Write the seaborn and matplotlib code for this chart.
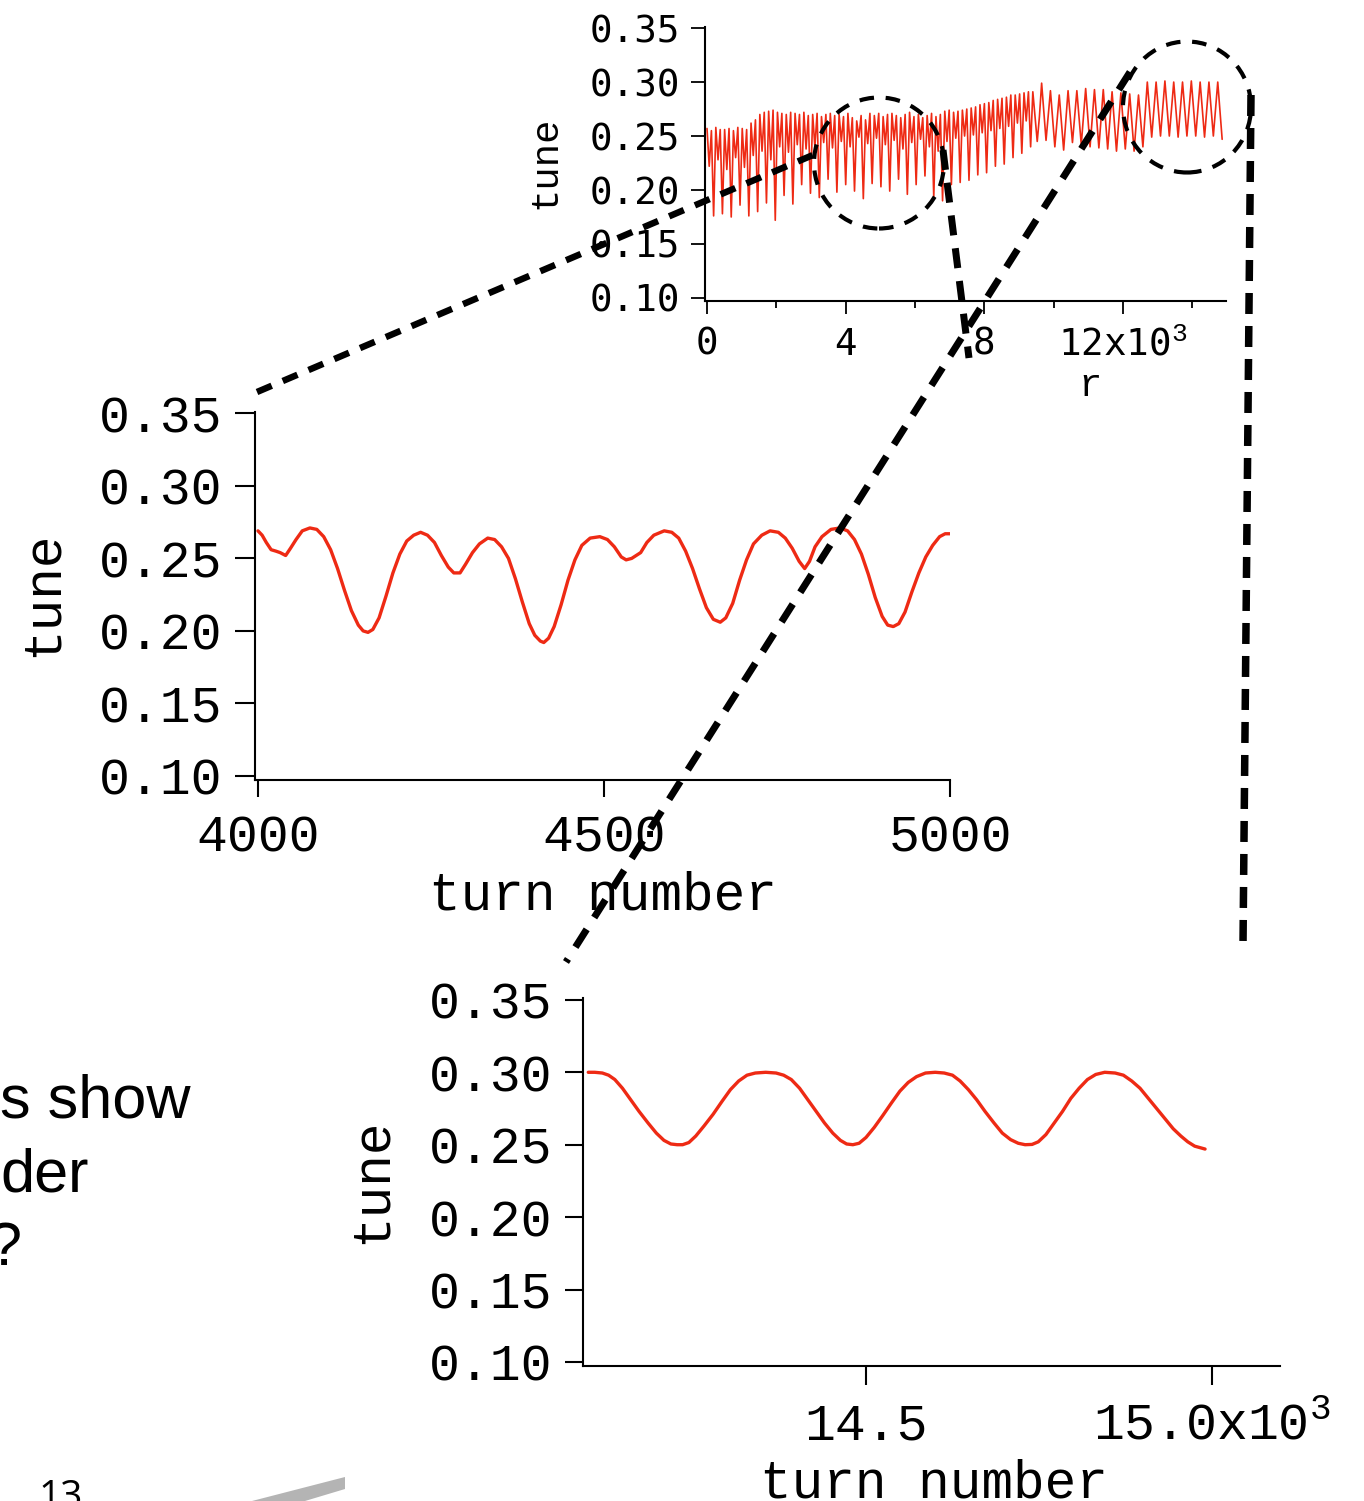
import numpy as np
import matplotlib
matplotlib.use("Agg")
import matplotlib.pyplot as plt
import seaborn as sns
from matplotlib.lines import Line2D
from matplotlib.patches import Ellipse, Polygon

# ---------------- data ----------------
# overview (top): tune sampled every 63.5 turns, values read from the picture
top_tune = [
    0.257, 0.222, 0.255, 0.176,  0.258, 0.228, 0.256, 0.178,  0.256, 0.219, 0.257, 0.175,
    0.255, 0.230, 0.258, 0.186,  0.257, 0.221, 0.256, 0.176,  0.262, 0.232, 0.265, 0.180,
    0.270, 0.236, 0.272, 0.188,  0.273, 0.228, 0.274, 0.172,  0.272, 0.240, 0.271, 0.195,
    0.270, 0.235, 0.272, 0.187,  0.271, 0.242, 0.270, 0.205,  0.272, 0.238, 0.269, 0.197,
    0.270, 0.240, 0.271, 0.193,  0.268, 0.244, 0.270, 0.210,  0.271, 0.239, 0.269, 0.198,
    0.270, 0.245, 0.268, 0.205,  0.271, 0.240, 0.267, 0.199,  0.264, 0.249, 0.269, 0.192,
    0.265, 0.243, 0.271, 0.206,  0.269, 0.248, 0.271, 0.203,  0.268, 0.242, 0.270, 0.199,
    0.271, 0.246, 0.269, 0.210,  0.267, 0.238, 0.270, 0.196,  0.272, 0.244, 0.268, 0.205,
    0.270, 0.247, 0.267, 0.213,  0.269, 0.240, 0.271, 0.193,  0.268, 0.236, 0.270, 0.190,
    0.273, 0.245, 0.274, 0.205,  0.272, 0.248, 0.273, 0.207,  0.274, 0.250, 0.275, 0.209,
    0.276, 0.251, 0.277, 0.214,  0.279, 0.253, 0.280, 0.216,  0.281, 0.255, 0.283, 0.222,
    0.284, 0.257, 0.285, 0.224,  0.286, 0.259, 0.288, 0.230,  0.288, 0.262, 0.289, 0.234,
    0.290, 0.264, 0.291, 0.240,
    0.291, 0.268, 0.245, 0.268,  0.299, 0.272, 0.246, 0.269,  0.292, 0.266, 0.240, 0.264,
    0.288, 0.262, 0.237, 0.265,  0.292, 0.268, 0.244, 0.268,  0.292, 0.267, 0.242, 0.268,
    0.294, 0.267, 0.240, 0.267,  0.293, 0.266, 0.239, 0.266,  0.293, 0.265, 0.238, 0.265,
    0.291, 0.263, 0.236, 0.263,  0.290, 0.264, 0.238, 0.263,  0.289, 0.262, 0.236, 0.263,
    0.288, 0.264, 0.240, 0.270,  0.300, 0.275, 0.249, 0.275,  0.300, 0.275, 0.250, 0.275,
    0.301, 0.276, 0.250, 0.275,  0.300, 0.275, 0.249, 0.275,  0.300, 0.275, 0.250, 0.276,
    0.301, 0.276, 0.250, 0.275,  0.300, 0.275, 0.249, 0.275,  0.300, 0.275, 0.250, 0.275,
    0.300, 0.274, 0.247,
]
top_step = 63.5  # turns between samples
top_turn_k = np.arange(len(top_tune)) * top_step / 1000.0

# zoom 4000-5000 turns (middle)
mid_turn = [4000, 4006, 4012, 4019, 4026, 4032, 4040, 4047, 4055, 4064, 4075, 4085,
            4095, 4105, 4115, 4125, 4135, 4145, 4152, 4159, 4166, 4175, 4185, 4195,
            4205, 4215, 4225, 4235, 4245, 4255, 4265, 4275, 4283, 4292, 4300, 4310,
            4320, 4332, 4342, 4352, 4362, 4372, 4382, 4392, 4400, 4408, 4413, 4420,
            4428, 4438, 4448, 4458, 4468, 4480, 4494, 4505, 4515, 4525, 4532, 4540,
            4553, 4562, 4572, 4587, 4598, 4608, 4618, 4628, 4638, 4648, 4658, 4668,
            4676, 4686, 4696, 4706, 4716, 4728, 4740, 4752, 4762, 4772, 4782, 4790,
            4797, 4805, 4815, 4828, 4841, 4852, 4862, 4872, 4882, 4892, 4902, 4910,
            4918, 4926, 4935, 4945, 4955, 4965, 4975, 4985, 4993, 5000]
mid_tune = [0.269, 0.266, 0.261, 0.256, 0.255, 0.254, 0.252, 0.257, 0.263, 0.269, 0.271, 0.270,
            0.265, 0.256, 0.243, 0.228, 0.214, 0.204, 0.200, 0.199, 0.201, 0.209, 0.224, 0.240,
            0.253, 0.262, 0.266, 0.268, 0.266, 0.261, 0.252, 0.244, 0.240, 0.240, 0.246, 0.254,
            0.260, 0.264, 0.263, 0.258, 0.250, 0.236, 0.220, 0.205, 0.197, 0.193, 0.192, 0.195,
            0.203, 0.218, 0.235, 0.249, 0.259, 0.264, 0.265, 0.263, 0.258, 0.251, 0.249, 0.250,
            0.254, 0.261, 0.266, 0.269, 0.268, 0.264, 0.255, 0.243, 0.229, 0.216, 0.208, 0.206,
            0.209, 0.219, 0.235, 0.249, 0.260, 0.266, 0.269, 0.268, 0.264, 0.257, 0.248, 0.243,
            0.248, 0.258, 0.265, 0.270, 0.271, 0.269, 0.263, 0.253, 0.239, 0.223, 0.210, 0.204,
            0.203, 0.205, 0.213, 0.227, 0.240, 0.251, 0.259, 0.265, 0.267, 0.267]

# zoom near 14.1-15.0 x10^3 turns (bottom)
bot_turn_k = [14.0986, 14.108, 14.119, 14.128, 14.137, 14.148, 14.160, 14.172, 14.185, 14.197,
              14.208, 14.218, 14.227, 14.235, 14.244, 14.254, 14.266, 14.279, 14.292, 14.304,
              14.316, 14.328, 14.340, 14.355, 14.370, 14.381, 14.392, 14.404, 14.416, 14.428,
              14.440, 14.452, 14.463, 14.472, 14.481, 14.490, 14.500, 14.512, 14.524, 14.537,
              14.549, 14.561, 14.573, 14.586, 14.600, 14.613, 14.625, 14.636, 14.648, 14.660,
              14.672, 14.685, 14.697, 14.709, 14.720, 14.730, 14.740, 14.749, 14.760, 14.772,
              14.784, 14.796, 14.808, 14.820, 14.832, 14.845, 14.860, 14.872, 14.884, 14.896,
              14.908, 14.920, 14.932, 14.944, 14.955, 14.965, 14.975, 14.990]
bot_tune = [0.300, 0.300, 0.2995, 0.298, 0.295, 0.289, 0.281, 0.273, 0.265, 0.258,
            0.253, 0.2505, 0.250, 0.250, 0.2515, 0.256, 0.263, 0.271, 0.280, 0.288,
            0.294, 0.298, 0.2995, 0.300, 0.2995, 0.298, 0.295, 0.289, 0.281, 0.273,
            0.265, 0.258, 0.253, 0.2505, 0.250, 0.251, 0.255, 0.262, 0.270, 0.279,
            0.287, 0.293, 0.297, 0.2995, 0.300, 0.2995, 0.298, 0.294, 0.288, 0.281,
            0.273, 0.265, 0.258, 0.2535, 0.251, 0.250, 0.2502, 0.252, 0.257, 0.265,
            0.273, 0.282, 0.289, 0.295, 0.2985, 0.300, 0.2995, 0.298, 0.294, 0.289,
            0.282, 0.275, 0.268, 0.261, 0.256, 0.252, 0.249, 0.247]

tune_ticks = [0.10, 0.15, 0.20, 0.25, 0.30, 0.35]
tune_ticklabels = ["0.10", "0.15", "0.20", "0.25", "0.30", "0.35"]
top_xticks = [0, 4, 8, 12]
top_xticklabels = ["0", "4", "8", "12x10$^{3}$"]
mid_xticks = [4000, 4500, 5000]
mid_xticklabels = ["4000", "4500", "5000"]
bot_xticks = [14.5, 15.0]
bot_xticklabels = ["14.5", "15.0x10$^{3}$"]

# ---------------- style ----------------
sns.set_style("ticks")
plt.rcParams['font.family'] = ['Liberation Mono', 'DejaVu Sans']
plt.rcParams['mathtext.fontset'] = 'custom'
plt.rcParams['mathtext.rm'] = 'Liberation Mono'
plt.rcParams['mathtext.it'] = 'Liberation Mono'
plt.rcParams['mathtext.default'] = 'rm'
for k in ('text.color', 'axes.labelcolor', 'xtick.color', 'ytick.color', 'axes.edgecolor'):
    plt.rcParams[k] = 'black'

W, H = 1364, 1501
fig = plt.figure(figsize=(W / 100, H / 100), dpi=100)
RED = '#ee2a14'


def px_axes(l, t, r, b):
    return fig.add_axes([l / W, 1 - b / H, (r - l) / W, (b - t) / H])


def label_at(ax, which, px, py, box):
    l, t, r, b = box
    fx = (px - l) / (r - l)
    fy = (b - py) / (b - t)
    axis = ax.yaxis if which == 'y' else ax.xaxis
    axis.set_label_coords(fx, fy)
    axis.label.set_verticalalignment('center')
    axis.label.set_horizontalalignment('center')


def style_axes(ax):
    sns.despine(ax=ax)
    for s in ('left', 'bottom'):
        ax.spines[s].set_linewidth(1.5)
        ax.spines[s].set_color('black')
    ax.grid(False)
    ax.set_facecolor('none')


# ---------- top overview ----------
box_top = (705, 27, 1226, 301)
ax1 = px_axes(*box_top)
sns.lineplot(x=top_turn_k, y=top_tune, ax=ax1, color=RED, linewidth=1.2,
             estimator=None, sort=False)
ax1.set_xlim(-0.058, 14.97)
ax1.set_ylim(0.0972, 0.351)
style_axes(ax1)
ax1.set_yticks(tune_ticks)
ax1.set_yticklabels(tune_ticklabels, fontfamily='DejaVu Sans Mono', fontsize=27)
ax1.set_xticks(top_xticks)
ax1.set_xticklabels(top_xticklabels, fontfamily='DejaVu Sans Mono', fontsize=27)
ax1.set_xticks([2, 6, 10, 14], minor=True)
ax1.tick_params(axis='y', direction='out', length=10, width=1.3, pad=8)
ax1.tick_params(axis='x', which='major', direction='out', length=9.5, width=1.3, pad=9)
ax1.tick_params(axis='x', which='minor', direction='out', length=5, width=1.3)
ax1.set_ylabel('tune', fontsize=28)
ax1.set_xlabel('r', fontsize=28)
label_at(ax1, 'y', 545, 162, box_top)
label_at(ax1, 'x', 1090, 386, box_top)

# ---------- middle zoom ----------
box_mid = (255, 411.5, 950, 780)
ax2 = px_axes(*box_mid)
sns.lineplot(x=mid_turn, y=mid_tune, ax=ax2, color=RED, linewidth=2.4,
             estimator=None, sort=False)
ax2.set_xlim(3995.7, 5000)
ax2.set_ylim(0.0972, 0.3513)
style_axes(ax2)
ax2.set_yticks(tune_ticks)
ax2.set_yticklabels(tune_ticklabels, fontsize=37)
ax2.set_xticks(mid_xticks)
ax2.set_xticklabels(mid_xticklabels, fontsize=37)
ax2.tick_params(axis='y', direction='out', length=14.4, width=1.5, pad=9)
ax2.tick_params(axis='x', direction='out', length=12.2, width=1.5, pad=12)
ax2.set_ylabel('tune', fontsize=38)
ax2.set_xlabel('turn number', fontsize=38)
label_at(ax2, 'y', 43, 594, box_mid)
label_at(ax2, 'x', 603, 896, box_mid)

# ---------- bottom zoom ----------
box_bot = (583, 998, 1280, 1366)
ax3 = px_axes(*box_bot)
sns.lineplot(x=bot_turn_k, y=bot_tune, ax=ax3, color=RED, linewidth=2.4,
             estimator=None, sort=False)
ax3.set_xlim(14.091, 15.0983)
ax3.set_ylim(0.0972, 0.3513)
style_axes(ax3)
ax3.set_yticks(tune_ticks)
ax3.set_yticklabels(tune_ticklabels, fontsize=37)
ax3.set_xticks(bot_xticks)
ax3.set_xticklabels(bot_xticklabels, fontsize=37)
ax3.tick_params(axis='y', direction='out', length=13, width=1.5, pad=9)
ax3.tick_params(axis='x', direction='out', length=13.7, width=1.5, pad=12)
ax3.set_ylabel('tune', fontsize=38)
ax3.set_xlabel('turn number', fontsize=38)
label_at(ax3, 'y', 372, 1181, box_bot)
label_at(ax3, 'x', 934, 1484, box_bot)


# ---------- slide decorations ----------
def P(x, y):
    return x / W, 1 - y / H


def dashed(p0, p1, lw_px, dash_px, gap_px):
    (x0, y0), (x1, y1) = P(*p0), P(*p1)
    lw = lw_px * 0.72
    ln = Line2D([x0, x1], [y0, y1], transform=fig.transFigure, color='black',
                linewidth=lw, linestyle=(0, (dash_px / lw_px, gap_px / lw_px)),
                solid_capstyle='butt', dash_capstyle='butt', zorder=10)
    fig.add_artist(ln)


dashed((257, 392), (813, 155), 6.5, 16, 12)
dashed((943, 150), (969, 358), 7, 20, 13)
dashed((1130, 72), (566, 962), 7, 21, 14)
dashed((1251, 95), (1243, 945), 7.5, 21, 12)

for (cx, cy, w, h) in [(879, 163, 130, 131), (1187, 107, 128, 131)]:
    e = Ellipse(P(cx, cy), w / W, h / H, transform=fig.transFigure, fill=False,
                edgecolor='black', linewidth=3.0, linestyle=(0, (3.5, 2.8)), zorder=10)
    fig.add_artist(e)

slide_font = ['Liberation Sans', 'DejaVu Sans']
fig.text(*P(0, 1117), 's show', fontsize=44, family=slide_font, ha='left',
         va='baseline', color='black')
fig.text(*P(0, 1192), 'der', fontsize=44, family=slide_font, ha='left',
         va='baseline', color='black')
fig.text(*P(-13, 1265), '?', fontsize=44, family=slide_font, ha='left',
         va='baseline', color='black')
fig.text(*P(38, 1508), '13', fontsize=28, family=['Open Sans', 'DejaVu Sans'],
         ha='left', va='baseline', color='black')

wedge = Polygon([P(252, 1501), P(345, 1477), P(345, 1489), P(305, 1501)],
                closed=True, transform=fig.transFigure, facecolor='#b4b4b4',
                edgecolor='none', zorder=5)
fig.add_artist(wedge)

fig.savefig('out.png', dpi=100)
